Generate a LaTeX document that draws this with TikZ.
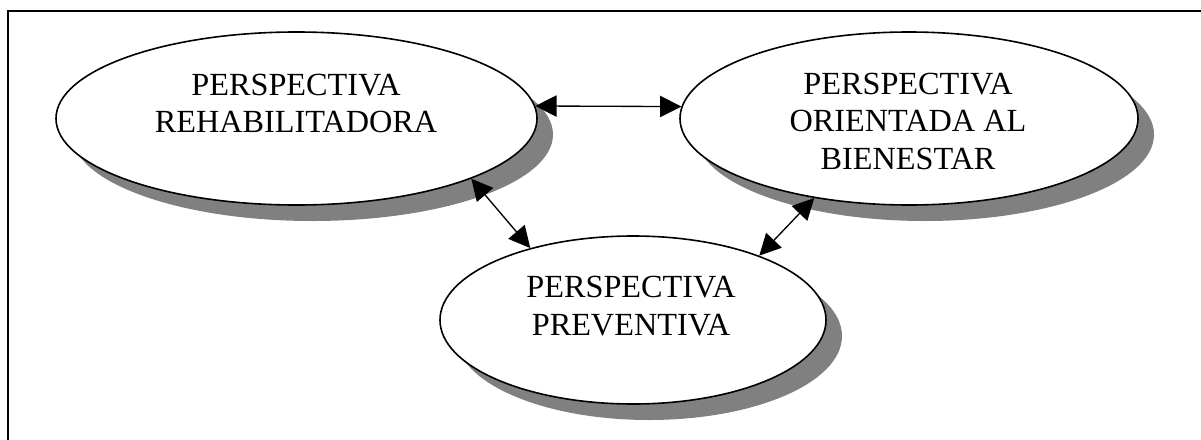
\documentclass[tikz,border=0pt]{standalone}
\usepackage{fontspec}
\setmainfont{Liberation Serif}
\usetikzlibrary{shapes.geometric,shadows,arrows.meta}
\begin{document}
\begin{tikzpicture}[x=0.75pt,y=-0.75pt,
  persp/.style={ellipse, draw, line width=1.2pt, fill=white, inner sep=0pt,
    drop shadow={shadow xshift=12pt, shadow yshift=-12pt, fill=black!50, opacity=1}},
  lbl/.style={inner sep=0pt, align=center, font=\fontsize{24.2}{28.3}\selectfont},
  conn/.style={line width=1pt, {Triangle[length=16pt,width=16pt]}-{Triangle[length=16pt,width=16pt]}}]
\useasboundingbox (0,0) rectangle (1201,439);
\clip (0,0) rectangle (1201,439);
\draw[line width=1.5pt] (8,11) rectangle (1240,480);
\node[persp, minimum width=360.75pt, minimum height=129.75pt] (e1) at (296.5,118.5) {};
\node[persp, minimum width=343.5pt, minimum height=129.75pt] (e2) at (909,118.5) {};
\node[persp, minimum width=289.5pt, minimum height=126pt] (e3) at (633,320) {};
\node[lbl] (t1) at (296,103.5) {PERSPECTIVA\\REHABILITADORA};
\node[lbl] (t2) at (908,121.4) {PERSPECTIVA\\ORIENTADA AL\\BIENESTAR};
\node[lbl] (t3) at (631,305.8) {PERSPECTIVA\\PREVENTIVA};
\draw[conn] (e1.3) -- (e2.177);
\draw[conn] (e1.-19) -- (e3.145);
\draw[conn] (e2.220) -- (e3.27);
\end{tikzpicture}
\end{document}
